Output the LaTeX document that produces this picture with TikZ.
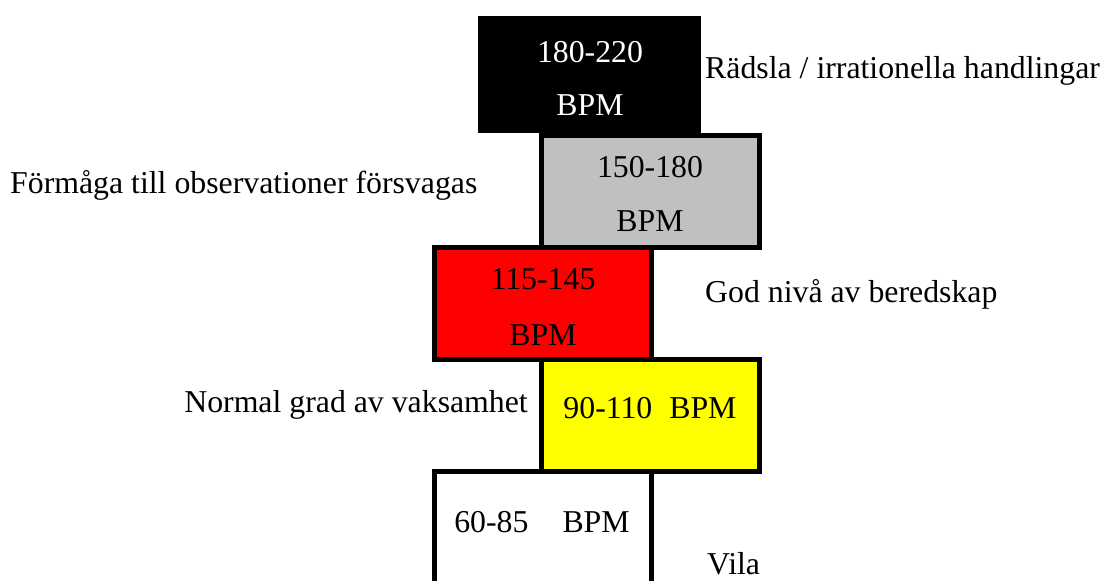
\documentclass[tikz,border=0pt]{standalone}
\usepackage{fontspec}
\setmainfont{Liberation Serif}
\begin{document}
\begin{tikzpicture}[x=1pt,y=-1pt,
  box/.style={draw=black, line width=5pt, minimum width=#1, inner sep=0pt},
  txt/.style={inner sep=0pt, anchor=base, font=\fontsize{31.8}{38}\selectfont}]
\useasboundingbox (0,0) rectangle (1104,581);
% boxes
\node[fill=black, draw=none, minimum width=223pt, minimum height=117pt, inner sep=0pt] (b1) at (589.5,74.5) {};
\node[box=218.5pt, minimum height=112pt, fill={rgb,255:red,192;green,192;blue,192}] (b2) at (650.25,191.5) {};
\node[box=216.5pt, minimum height=112pt, fill={rgb,255:red,255;green,0;blue,0}] (b3) at (542.75,303.5) {};
\node[box=218pt, minimum height=112pt, fill={rgb,255:red,255;green,255;blue,0}] (b4) at (650.5,415.5) {};
\node[box=216.5pt, minimum height=112pt, fill=white] (b5) at (542.75,527.5) {};
% box texts
\node[txt, text=white] (t1a) at (590,62) {180-220};
\node[txt, text=white] (t1b) at (590,115) {BPM};
\node[txt] (t2a) at (650,177) {150-180};
\node[txt] (t2b) at (650,231) {BPM};
\node[txt] (t3a) at (543,289) {115-145};
\node[txt] (t3b) at (543,345) {BPM};
\node[txt] (t4) at (650,418) {90-110\hspace{17pt}BPM};
\node[txt] (t5) at (542,532) {60-85\hspace{34pt}BPM};
% labels
\node[txt, anchor=base west] (l1) at (705,78) {Rädsla / irrationella handlingar};
\node[txt, anchor=base west] (l2) at (10,193) {Förmåga till observationer försvagas};
\node[txt, anchor=base west] (l3) at (705,302) {God nivå av beredskap};
\node[txt, anchor=base east] (l4) at (528,412) {Normal grad av vaksamhet};
\node[txt, anchor=base west] (l5) at (707,574) {Vila};
\end{tikzpicture}
\end{document}
